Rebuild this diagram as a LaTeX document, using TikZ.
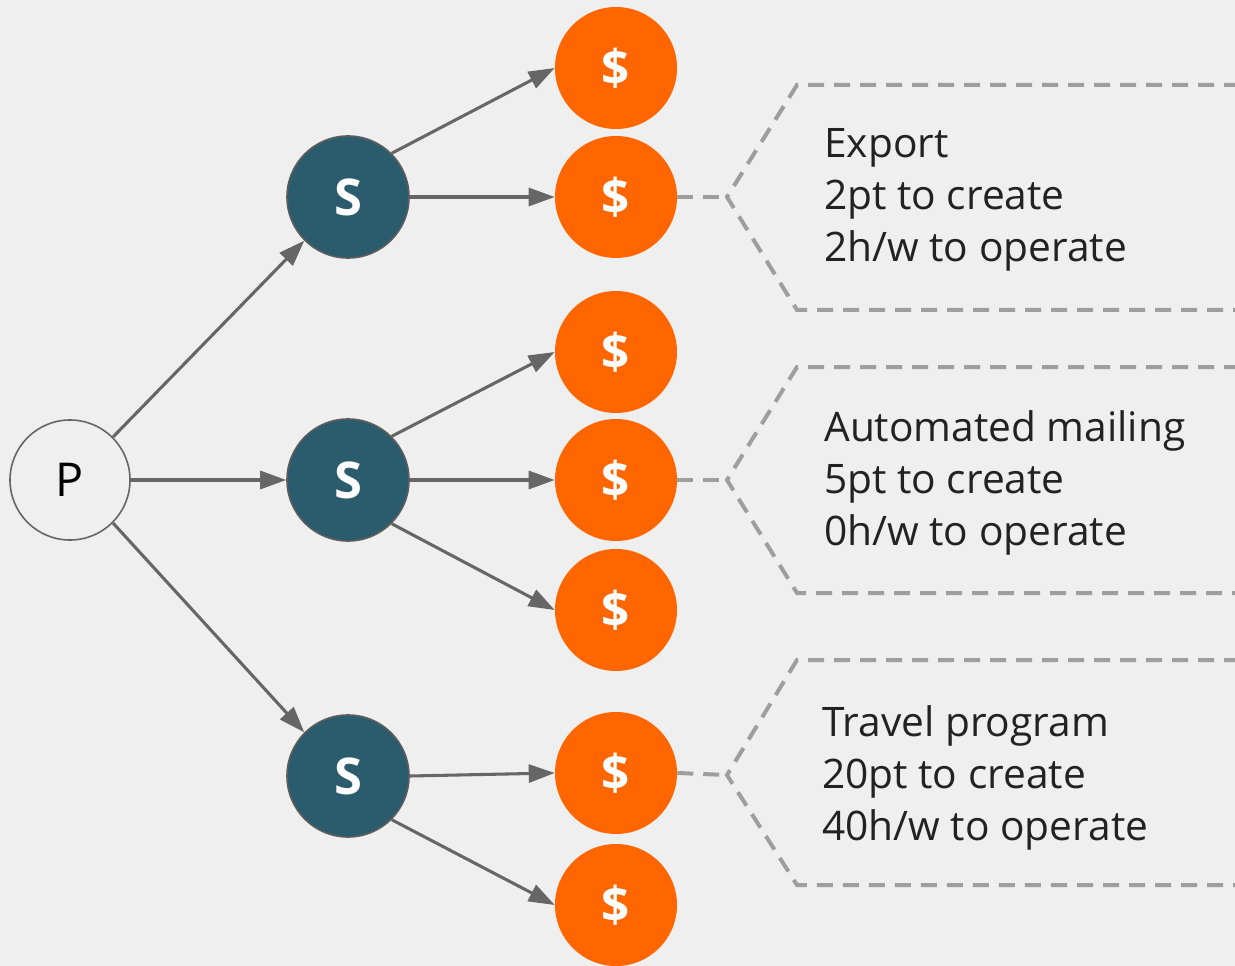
\documentclass[tikz,border=0pt]{standalone}
\usepackage{fontspec}
\setmainfont{Open Sans}
\usetikzlibrary{arrows.meta}
\definecolor{bg}{HTML}{EFEFEF}
\definecolor{teal}{HTML}{2B5C6E}
\definecolor{orng}{HTML}{FF6600}
\definecolor{edge}{HTML}{666666}
\definecolor{dashc}{HTML}{9E9E9E}
\definecolor{txt}{HTML}{222222}
\begin{document}
\begin{tikzpicture}[x=0.75pt,y=-0.75pt,
  pnode/.style={circle,draw=edge,line width=1.2pt,fill=bg,minimum size=90pt,inner sep=0pt,
     font=\fontsize{35}{35}\selectfont,text=black},
  snode/.style={circle,draw=edge!90!black,line width=1.2pt,fill=teal,minimum size=91.5pt,inner sep=0pt,
     font=\fontsize{38}{38}\selectfont\bfseries,text=white},
  dnode/.style={circle,fill=orng,minimum size=91.5pt,inner sep=0pt,
     font=\fontsize{37}{37}\selectfont\bfseries,text=white},
  arr/.style={draw=edge,line width=2.3pt,-{Triangle[length=19.5pt,width=13.5pt]}},
  brk/.style={draw=dashc,line width=3pt,dash pattern=on 12pt off 7.5pt},
  lbl/.style={anchor=base west,inner sep=0pt,text=txt,font=\fontsize{30.5}{30.5}\selectfont}
]
\fill[bg] (0,0) rectangle (1235,966);
\useasboundingbox (0,0) rectangle (1235,966);

\node[pnode] (p) at (70,480) {P};
\node[snode] (s1) at (348,197) {S};
\node[snode] (s2) at (348,480) {S};
\node[snode] (s3) at (348,776) {S};

\node[dnode] (d1) at (616,68) {\$};
\node[dnode] (d2) at (616,197) {\$};
\node[dnode] (d3) at (616,352) {\$};
\node[dnode] (d4) at (616,480) {\$};
\node[dnode] (d5) at (616,610) {\$};
\node[dnode] (d6) at (616,773) {\$};
\node[dnode] (d7) at (616,905) {\$};

\draw[arr] (p.north east) -- (s1.south west);
\draw[arr] (p.east) -- (s2.west);
\draw[arr] (p.south east) -- (s3.north west);

\draw[arr] (s1.north east) -- (d1.west);
\draw[arr] (s1.east) -- (d2.west);
\draw[arr] (s2.north east) -- (d3.west);
\draw[arr] (s2.east) -- (d4.west);
\draw[arr] (s2.south east) -- (d5.west);
\draw[arr] (s3.east) -- (d6.west);
\draw[arr] (s3.south east) -- (d7.west);

% brackets
\coordinate (b1) at (727,197);
\coordinate (b1t) at (1240,85);
\coordinate (b1b) at (1240,310);
\draw[brk] (d2.east) -- (b1);
\draw[brk] (b1t) -- (797,85) -- (b1) -- (797,310) -- (b1b);

\coordinate (b2) at (727,480);
\coordinate (b2t) at (1240,367);
\coordinate (b2b) at (1240,593);
\draw[brk] (d4.east) -- (b2);
\draw[brk] (b2t) -- (797,367) -- (b2) -- (797,593) -- (b2b);

\coordinate (b3) at (727,775);
\coordinate (b3t) at (1240,660);
\coordinate (b3b) at (1240,885);
\draw[brk] (d6.east) -- (b3);
\draw[brk] (b3t) -- (797,660) -- (b3) -- (797,885) -- (b3b);

\node[lbl] (t1a) at (824,158) {Export};
\node[lbl] (t1b) at (824,210) {2pt to create};
\node[lbl] (t1c) at (824,262) {2h/w to operate};

\node[lbl] (t2a) at (824,441) {Automated mailing};
\node[lbl] (t2b) at (824,493) {5pt to create};
\node[lbl] (t2c) at (824,545) {0h/w to operate};

\node[lbl] (t3a) at (822,736) {Travel program};
\node[lbl] (t3b) at (822,788) {20pt to create};
\node[lbl] (t3c) at (822,840) {40h/w to operate};
\end{tikzpicture}
\end{document}
